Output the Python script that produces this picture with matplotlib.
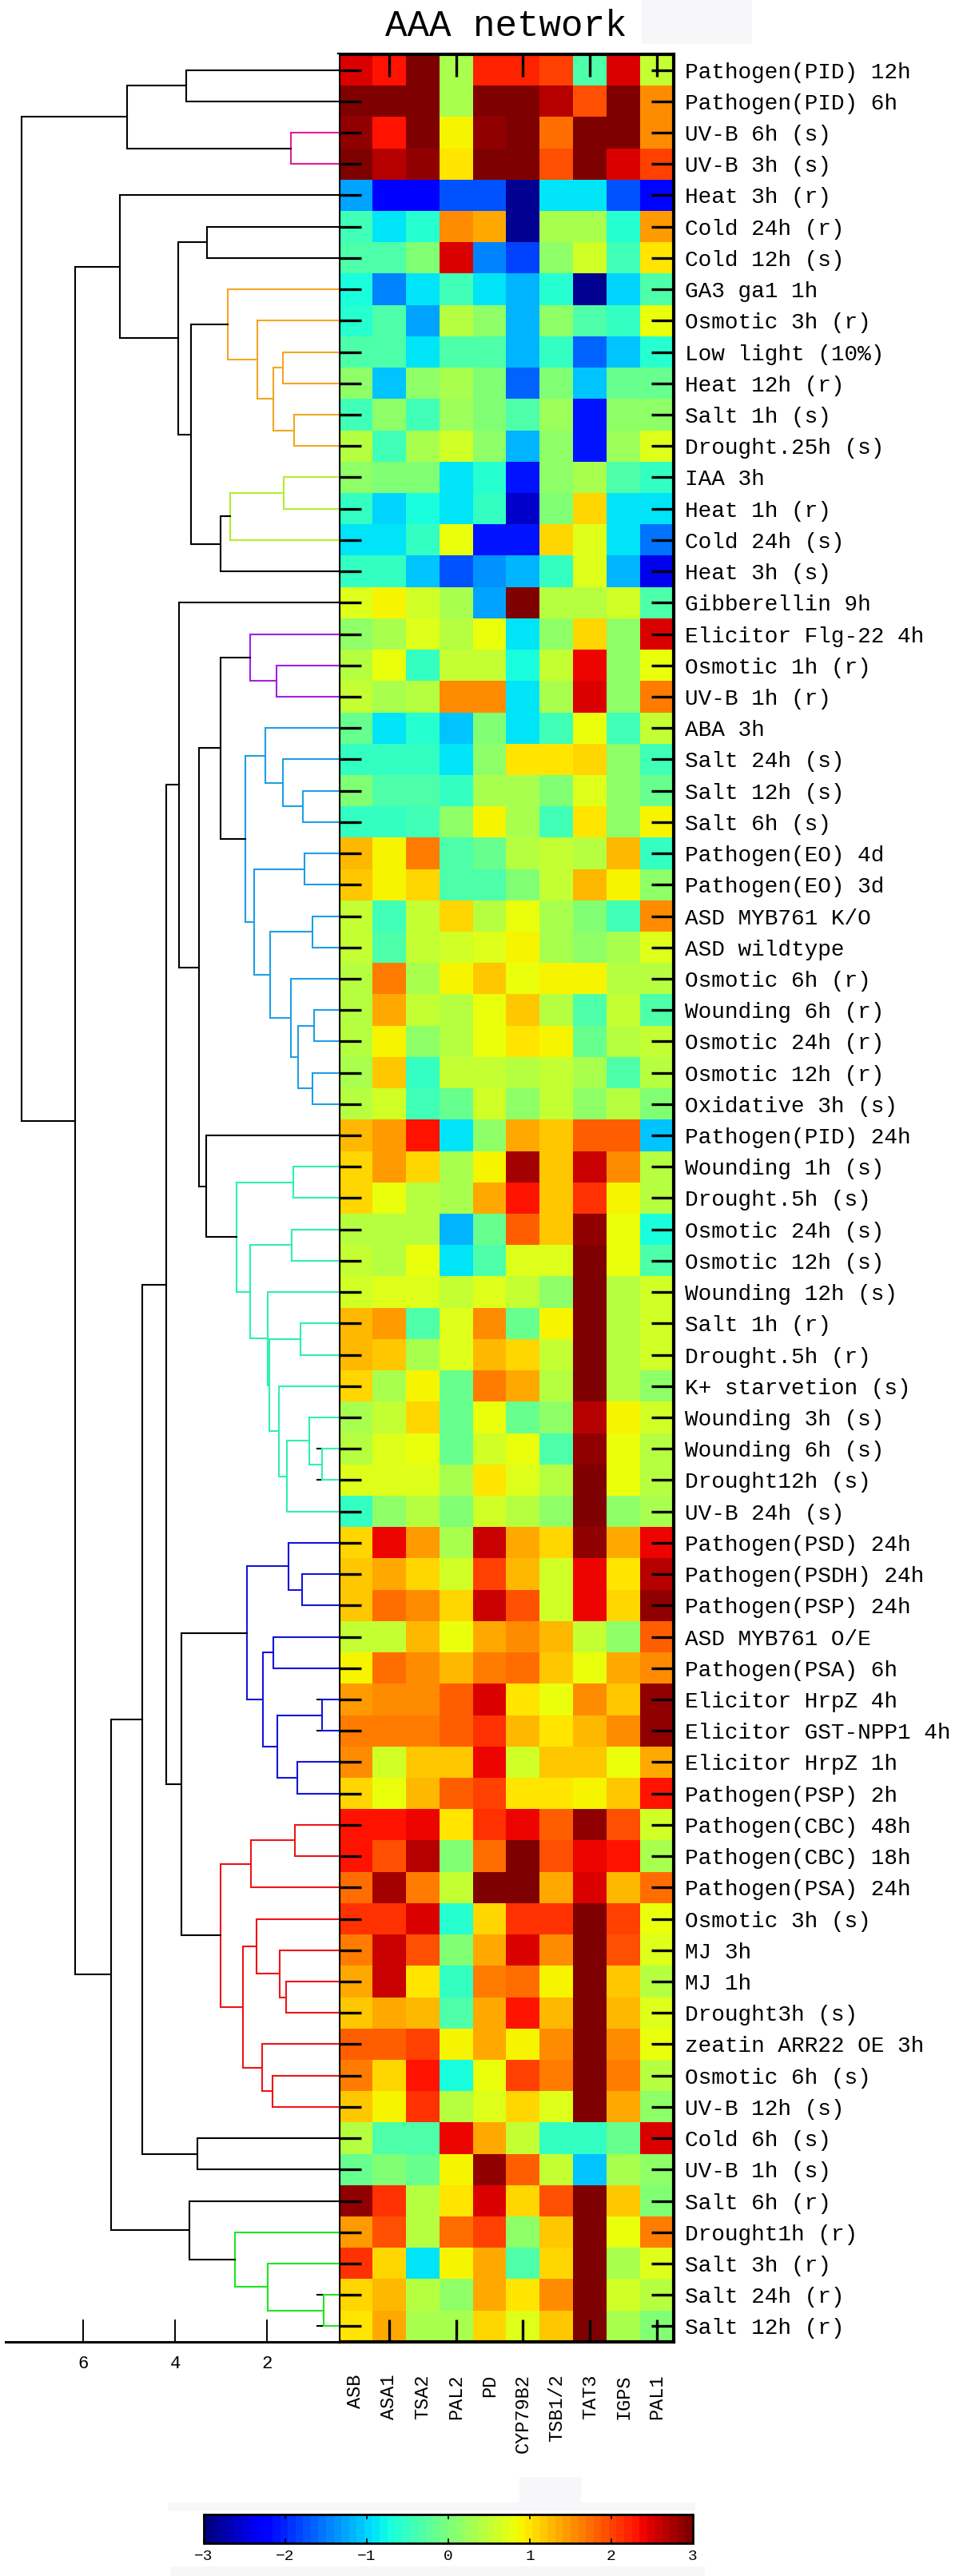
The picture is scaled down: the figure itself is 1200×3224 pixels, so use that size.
import matplotlib
matplotlib.use("Agg")
import matplotlib.pyplot as plt
from matplotlib.patches import Rectangle
import numpy as np

plt.rcParams['font.family'] = ['Liberation Mono', 'DejaVu Sans']

# Conditions (rows, top to bottom) and genes (columns)
conditions = [
    "Pathogen(PID) 12h", "Pathogen(PID) 6h", "UV-B 6h (s)", "UV-B 3h (s)",
    "Heat 3h (r)", "Cold 24h (r)", "Cold 12h (s)", "GA3 ga1 1h",
    "Osmotic 3h (r)", "Low light (10%)", "Heat 12h (r)", "Salt 1h (s)",
    "Drought.25h (s)", "IAA 3h", "Heat 1h (r)", "Cold 24h (s)", "Heat 3h (s)",
    "Gibberellin 9h", "Elicitor Flg-22 4h", "Osmotic 1h (r)", "UV-B 1h (r)",
    "ABA 3h", "Salt 24h (s)", "Salt 12h (s)", "Salt 6h (s)",
    "Pathogen(EO) 4d", "Pathogen(EO) 3d", "ASD MYB761 K/O", "ASD wildtype",
    "Osmotic 6h (r)", "Wounding 6h (r)", "Osmotic 24h (r)", "Osmotic 12h (r)",
    "Oxidative 3h (s)", "Pathogen(PID) 24h", "Wounding 1h (s)",
    "Drought.5h (s)", "Osmotic 24h (s)", "Osmotic 12h (s)", "Wounding 12h (s)",
    "Salt 1h (r)", "Drought.5h (r)", "K+ starvetion (s)", "Wounding 3h (s)",
    "Wounding 6h (s)", "Drought12h (s)", "UV-B 24h (s)", "Pathogen(PSD) 24h",
    "Pathogen(PSDH) 24h", "Pathogen(PSP) 24h", "ASD MYB761 O/E",
    "Pathogen(PSA) 6h", "Elicitor HrpZ 4h", "Elicitor GST-NPP1 4h",
    "Elicitor HrpZ 1h", "Pathogen(PSP) 2h", "Pathogen(CBC) 48h",
    "Pathogen(CBC) 18h", "Pathogen(PSA) 24h", "Osmotic 3h (s)", "MJ 3h",
    "MJ 1h", "Drought3h (s)", "zeatin ARR22 OE 3h", "Osmotic 6h (s)",
    "UV-B 12h (s)", "Cold 6h (s)", "UV-B 1h (s)", "Salt 6h (r)",
    "Drought1h (r)", "Salt 3h (r)", "Salt 24h (r)", "Salt 12h (r)",
]
genes = ["ASB", "ASA1", "TSA2", "PAL2", "PD", "CYP79B2", "TSB1/2", "TAT3",
         "IGPS", "PAL1"]

# log ratio values, one row per condition (order of genes above)
expr = [
    [2.52, 2.3, 3.0, 0.3, 2.2, 2.2, 2.0, -0.3, 2.44, 0.5],
    [3.0, 3.0, 3.0, 0.3, 3.0, 3.0, 2.68, 1.9, 3.0, 1.5],
    [2.85, 2.3, 3.0, 0.85, 2.85, 3.0, 1.7, 3.0, 3.0, 1.5],
    [2.95, 2.68, 2.85, 1.0, 3.0, 3.0, 1.9, 3.0, 2.5, 2.0],
    [-1.3, -2.3, -2.3, -1.7, -1.7, -2.9, -0.9, -0.9, -1.7, -2.2],
    [-0.45, -0.9, -0.6, 1.5, 1.4, -2.9, 0.3, 0.3, -0.6, 1.45],
    [-0.3, -0.3, 0.0, 2.47, -1.5, -1.8, 0.1, 0.6, -0.4, 1.0],
    [-0.75, -1.5, -0.9, -0.4, -0.85, -1.15, -0.6, -2.9, -1.0, -0.3],
    [-0.6, -0.3, -1.3, 0.45, 0.1, -1.15, 0.1, -0.3, -0.5, 0.8],
    [-0.3, -0.3, -0.9, -0.3, -0.3, -1.15, -0.5, -1.65, -1.1, -0.6],
    [0.1, -1.05, 0.1, 0.35, 0.0, -1.65, 0.0, -1.1, -0.15, -0.15],
    [-0.4, 0.1, -0.4, 0.25, 0.0, -0.3, 0.25, -2.1, 0.1, 0.1],
    [0.4, -0.4, 0.3, 0.6, 0.1, -1.15, 0.1, -2.1, 0.25, 0.7],
    [0.1, 0.0, 0.0, -0.85, -0.6, -2.1, 0.1, 0.3, -0.3, -0.5],
    [-0.5, -1.0, -0.75, -0.9, -0.5, -2.6, 0.0, 1.05, -0.9, -0.9],
    [-0.85, -0.85, -0.5, 0.8, -2.15, -2.15, 1.1, 0.7, -0.85, -1.55],
    [-0.5, -0.5, -1.05, -1.75, -1.4, -1.15, -0.5, 0.7, -1.15, -2.35],
    [0.7, 0.85, 0.65, 0.3, -1.25, 2.95, 0.45, 0.45, 0.6, -0.3],
    [0.1, 0.3, 0.7, 0.45, 0.8, -0.9, 0.1, 1.05, 0.1, 2.47],
    [0.45, 0.8, -0.5, 0.55, 0.55, -0.75, 0.55, 2.35, 0.1, 0.8],
    [0.55, 0.3, 0.45, 1.55, 1.55, -0.9, 0.3, 2.48, 0.1, 1.65],
    [-0.15, -0.9, -0.6, -1.05, 0.0, -0.9, -0.4, 0.8, -0.4, 0.55],
    [-0.5, -0.5, -0.5, -0.9, 0.1, 0.95, 0.95, 1.05, 0.1, -0.4],
    [0.0, -0.3, -0.3, -0.5, 0.3, 0.35, 0.0, 0.7, 0.1, -0.15],
    [-0.5, -0.5, -0.4, 0.1, 0.85, 0.3, -0.4, 0.95, 0.1, 0.85],
    [1.25, 0.85, 1.65, -0.3, -0.15, 0.45, 0.55, 0.45, 1.25, -0.5],
    [1.2, 0.85, 1.1, -0.3, -0.3, 0.0, 0.55, 1.25, 0.85, 0.1],
    [0.55, -0.4, 0.55, 1.1, 0.45, 0.8, 0.35, 0.0, -0.4, 1.55],
    [0.55, -0.3, 0.55, 0.65, 0.7, 0.85, 0.35, 0.1, 0.35, 0.7],
    [0.45, 1.65, 0.3, 0.85, 1.2, 0.8, 0.85, 0.85, 0.45, 0.45],
    [0.45, 1.35, 0.55, 0.4, 0.8, 1.15, 0.4, -0.3, 0.55, -0.3],
    [0.4, 0.85, 0.1, 0.45, 0.8, 0.95, 0.85, -0.15, 0.45, 0.55],
    [0.3, 1.15, -0.5, 0.55, 0.55, 0.4, 0.55, 0.3, -0.3, 0.4],
    [0.45, 0.65, -0.4, -0.15, 0.65, 0.1, 0.55, 0.1, 0.4, 0.0],
    [1.3, 1.45, 2.3, -0.9, 0.1, 1.35, 1.2, 1.8, 1.8, -1.05],
    [1.05, 1.45, 1.05, 0.3, 0.85, 2.75, 1.2, 2.58, 1.55, 0.45],
    [1.1, 0.8, 0.4, 0.3, 1.35, 2.3, 1.15, 2.15, 0.85, 0.4],
    [0.4, 0.4, 0.45, -1.15, -0.15, 1.8, 1.2, 2.85, 0.8, -0.75],
    [0.55, 0.4, 0.8, -0.9, -0.3, 0.7, 0.7, 3.0, 0.8, -0.3],
    [0.65, 0.7, 0.7, 0.5, 0.7, 0.5, 0.1, 3.0, 0.45, 0.65],
    [1.3, 1.45, -0.3, 0.7, 1.55, -0.15, 0.85, 3.0, 0.4, 0.65],
    [1.3, 1.15, 0.3, 0.7, 1.3, 1.05, 0.5, 3.0, 0.45, 0.65],
    [1.1, 0.3, 0.85, -0.15, 1.6, 1.4, 0.45, 3.0, 0.45, 0.1],
    [0.3, 0.5, 1.1, -0.15, 0.8, -0.15, 0.1, 2.68, 0.85, 0.65],
    [0.4, 0.7, 0.8, -0.15, 0.65, 0.8, -0.3, 2.85, 0.8, 0.45],
    [0.7, 0.7, 0.7, 0.3, 0.95, 0.7, 0.4, 3.0, 0.8, 0.4],
    [-0.5, 0.1, 0.4, 0.0, 0.65, 0.4, 0.1, 3.0, 0.1, 0.3],
    [1.1, 2.4, 1.45, 0.3, 2.58, 1.4, 1.1, 2.85, 1.35, 2.35],
    [1.15, 1.35, 1.1, 0.65, 2.0, 1.25, 0.65, 2.42, 1.0, 2.68],
    [1.2, 1.7, 1.5, 1.1, 2.58, 1.9, 0.65, 2.35, 1.05, 2.85],
    [0.5, 0.5, 1.3, 0.75, 1.4, 1.5, 1.25, 0.5, 0.1, 1.8],
    [0.85, 1.75, 1.5, 1.3, 1.65, 1.75, 1.2, 0.75, 1.35, 1.5],
    [1.45, 1.5, 1.5, 1.85, 2.47, 0.95, 0.8, 1.55, 1.2, 2.85],
    [1.65, 1.65, 1.65, 1.85, 2.1, 1.3, 0.95, 1.3, 1.5, 2.85],
    [1.5, 0.65, 1.2, 1.2, 2.35, 0.65, 1.15, 1.15, 0.8, 1.4],
    [1.05, 0.8, 1.3, 1.8, 2.0, 0.95, 0.95, 0.85, 1.2, 2.3],
    [2.3, 2.3, 2.35, 1.0, 2.15, 2.4, 1.8, 2.85, 1.9, 0.65],
    [2.3, 1.95, 2.68, 0.0, 1.7, 2.95, 1.9, 2.35, 2.3, 0.3],
    [1.7, 2.75, 1.6, 0.55, 2.95, 3.0, 1.4, 2.5, 1.3, 1.7],
    [2.15, 2.15, 2.47, -0.6, 1.1, 2.1, 2.1, 3.0, 2.0, 0.75],
    [1.65, 2.58, 1.9, 0.0, 1.35, 2.47, 1.5, 3.0, 1.95, 0.7],
    [1.35, 2.58, 1.0, -0.5, 1.6, 1.7, 0.85, 3.0, 1.2, 0.4],
    [1.15, 1.4, 1.3, -0.3, 1.35, 2.3, 1.25, 3.0, 1.3, 0.7],
    [1.8, 1.85, 2.0, 0.85, 1.4, 0.85, 1.55, 2.95, 1.55, 0.75],
    [1.6, 1.1, 2.3, -0.75, 0.8, 2.0, 1.6, 3.0, 1.6, 0.4],
    [1.15, 0.85, 2.15, 0.4, 0.7, 1.05, 0.7, 3.0, 1.4, 0.1],
    [0.4, -0.3, -0.3, 2.4, 1.4, 0.5, -0.5, -0.5, -0.15, 2.5],
    [-0.15, 0.0, -0.15, 0.85, 2.85, 1.8, 0.5, -1.1, 0.3, 0.1],
    [2.85, 2.15, 0.4, 1.0, 2.52, 1.1, 1.9, 3.0, 1.15, 0.0],
    [1.45, 1.9, 0.4, 1.75, 2.0, 0.1, 1.2, 3.0, 0.8, 1.6],
    [2.15, 1.05, -0.9, 0.85, 1.4, -0.3, 1.05, 3.0, 0.3, 0.7],
    [1.1, 1.3, 0.45, 0.1, 1.4, 0.95, 1.5, 3.0, 0.6, 0.45],
    [1.0, 1.35, 0.3, 0.3, 1.1, 0.7, 1.15, 3.0, 0.3, 0.0],
]

# Hierarchical clustering of the conditions:
# name -> (left child, right child, merge height, cluster group)
# integers are row numbers (1-based), strings are other merges
links = {
    "A1": (1, 2, 3.75, None), "A2": (3, 4, 1.47, "pink"),
    "A3": ("A1", "A2", 5.04, None),
    "F": (6, 7, 3.31, None),
    "L": (10, 11, 1.65, "orange"), "M": (12, 13, 1.41, "orange"),
    "K": ("L", "M", 1.85, "orange"), "J": (9, "K", 2.21, "orange"),
    "H": (8, "J", 2.85, "orange"),
    "O": (14, 15, 1.63, "lime"), "N": ("O", 16, 2.80, "lime"),
    "I": ("N", 17, 3.01, None), "G": ("H", "I", 3.65, None),
    "E": ("F", "G", 3.94, None), "C": (5, "E", 5.20, None),
    "AA": (20, 21, 1.79, "purple"), "Y": (19, "AA", 2.36, "purple"),
    "AE": (24, 25, 1.21, "sky"), "AD": (23, "AE", 1.65, "sky"),
    "AB": (22, "AD", 2.03, "sky"), "AF": (26, 27, 1.17, "sky"),
    "AH": (28, 29, 1.01, "sky"), "AK": (31, 32, 0.96, "sky"),
    "AL": (33, 34, 1.01, "sky"), "AJ": ("AK", "AL", 1.31, "sky"),
    "AI": (30, "AJ", 1.47, "sky"), "AG": ("AH", "AI", 1.93, "sky"),
    "AC": ("AF", "AG", 2.28, "sky"), "Z": ("AB", "AC", 2.47, "sky"),
    "W": ("Y", "Z", 3.01, None),
    "AN": (36, 37, 1.42, "aqua"), "AP": (38, 39, 1.45, "aqua"),
    "Q41": (41, 42, 1.27, "aqua"), "Q45": (45, 46, 0.79, "aqua"),
    "C44b": (44, "Q45", 1.07, "aqua"), "C44": ("C44b", 47, 1.56, "aqua"),
    "C43": (43, "C44", 1.73, "aqua"), "CL1": ("Q41", "C43", 1.95, "aqua"),
    "CL2": (40, "CL1", 1.98, "aqua"), "X97": ("AP", "CL2", 2.37, "aqua"),
    "AM": ("AN", "X97", 2.66, "aqua"),
    "X": (35, "AM", 3.32, None), "V": ("W", "X", 3.48, None),
    "T": (18, "V", 3.92, None),
    "B49": (49, 50, 1.23, "blue"), "B48": (48, "B49", 1.52, "blue"),
    "B51": (51, 52, 1.85, "blue"), "B53": (53, 54, 0.79, "blue"),
    "B55": (55, 56, 1.34, "blue"), "B53_56": ("B53", "B55", 1.77, "blue"),
    "B51_56": ("B51", "B53_56", 2.08, "blue"),
    "BL": ("B48", "B51_56", 2.44, "blue"),
    "R57": (57, 58, 1.38, "red"), "RA": ("R57", 59, 2.34, "red"),
    "RE": (62, 63, 1.57, "red"), "RD": (61, "RE", 1.72, "red"),
    "RC": (60, "RD", 2.23, "red"), "RG": (65, 66, 1.87, "red"),
    "RF": (64, "RG", 2.10, "red"), "RB": ("RC", "RF", 2.52, "red"),
    "REDC": ("RA", "RB", 3.01, "red"),
    "U": ("BL", "REDC", 3.87, None), "R": ("T", "U", 4.20, None),
    "S": (67, 68, 3.52, None), "P": ("R", "S", 4.72, None),
    "GT": (72, 73, 0.75, "green"), "GS": (71, "GT", 1.97, "green"),
    "GR": (70, "GS", 2.69, "green"), "Q": (69, "GR", 3.68, None),
    "D": ("P", "Q", 5.40, None), "B": ("C", "D", 6.19, None),
    "ROOT": ("A3", "B", 7.35, None),
}

group_colors = {None: "black", "pink": "#e41a9c", "orange": "#f5a623",
                "lime": "#b2ee2e", "purple": "#a020e8", "sky": "#1e9fe6",
                "aqua": "#2ef0b4", "blue": "#1414e0", "red": "#f01414",
                "green": "#1ee61e"}

W, H = 1200, 3224
fig = plt.figure(figsize=(W / 100, H / 100), dpi=100)


def box(l, t, r, b):
    return [l / W, 1 - b / H, (r - l) / W, (b - t) / H]


# faint background patches
for (l, t, r, b) in [(803, 0, 941, 55), (650, 3100, 727, 3140),
                     (210, 3132, 870, 3143), (213, 3212, 882, 3224)]:
    fig.add_artist(Rectangle((l / W, 1 - b / H), (r - l) / W, (b - t) / H,
                             transform=fig.transFigure, color="#f7f6f9",
                             zorder=0, lw=0))

n_rows = len(conditions)
n_cols = len(genes)
cmap = matplotlib.colormaps['jet'].resampled(64)

# heatmap
ax = fig.add_axes(box(424, 68, 843, 2931))
im = ax.imshow(np.array(expr), cmap=cmap, vmin=-3, vmax=3, aspect='auto',
               interpolation='nearest', extent=(0, n_cols, n_rows, 0))
for s in ax.spines.values():
    s.set_linewidth(3)
ax.set_yticks(np.arange(n_rows) + 0.5)
ax.set_yticklabels(conditions)
ax.tick_params(axis='y', left=True, right=True, labelleft=False,
               labelright=True, direction='in', length=20, width=2.4,
               pad=10, labelsize=20)
ax.xaxis.remove_overlapping_locs = False
ax.set_xticks(np.arange(1, n_cols, 2) + 0.5)
ax.set_xticks(np.arange(n_cols) + 0.5, genes, minor=True)
ax.tick_params(axis='x', which='major', top=True, bottom=True,
               labelbottom=False, direction='in', length=20, width=2.4)
ax.tick_params(axis='x', which='minor', length=0, pad=29, labelsize=17,
               labelrotation=90)

# dendrogram
dax = fig.add_axes(box(7, 68, 424, 2931))
dax.set_xlim(7.70, 0.426)
dax.set_ylim(n_rows, 0)
for side in ['left', 'right', 'top']:
    dax.spines[side].set_visible(False)
dax.spines['bottom'].set_linewidth(2.2)
dax.set_yticks([])
dax.set_xticks([6, 4, 2])
dax.tick_params(axis='x', direction='in', length=20, width=1.4, pad=12,
                labelsize=16)


def draw(node):
    if isinstance(node, int):
        return node - 0.5, 0.0
    left, right, h, grp = links[node]
    y1, h1 = draw(left)
    y2, h2 = draw(right)
    if h < 0.85:
        for yy in (y1, y2):
            dax.plot([0.90, h], [yy, yy], color='black', lw=1.5, zorder=1)
    dax.plot([h1, h, h, h2], [y1, y1, y2, y2], color=group_colors[grp],
             lw=1.5, zorder=2, solid_joinstyle='miter')
    return (y1 + y2) / 2, h


draw("ROOT")

# title
fig.text(633 / W, 1 - 33 / H, "AAA network", ha='center', va='center',
         fontsize=33)

# colorbar
cax = fig.add_axes(box(255, 3147, 867, 3183))
cb = fig.colorbar(im, cax=cax, orientation='horizontal')
cb.set_ticks(range(-3, 4))
cb.outline.set_linewidth(2)
cax.tick_params(direction='in', top=True, bottom=True, length=4, width=1.2,
                labelsize=14, pad=6)

fig.savefig("out.png", dpi=100)
